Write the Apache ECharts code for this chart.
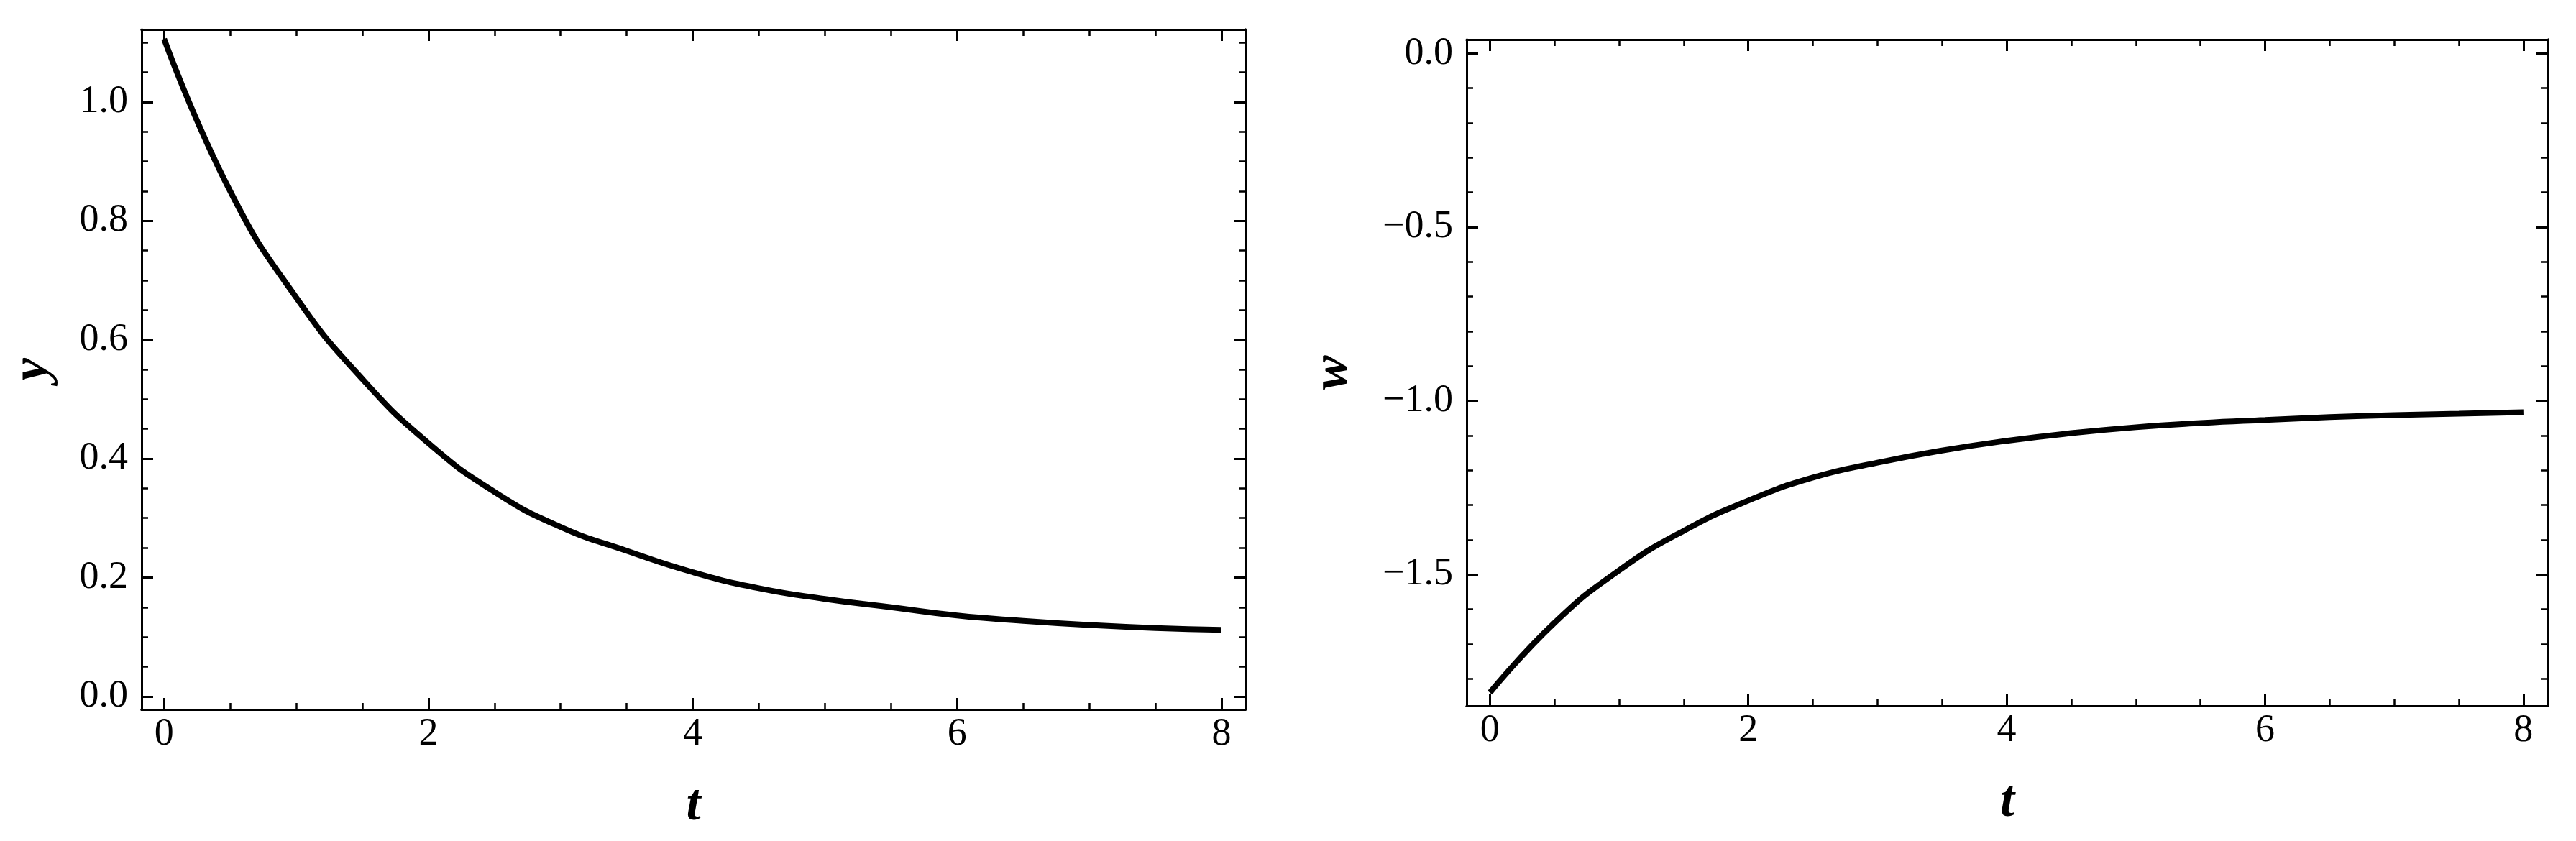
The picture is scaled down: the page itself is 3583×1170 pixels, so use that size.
<!DOCTYPE html>
<html>
<head>
<meta charset="utf-8">
<script src="https://cdn.jsdelivr.net/npm/echarts@6.0.0/dist/echarts.min.js"></script>
<style>
  html, body { margin: 0; padding: 0; background: #fff; }
  #main { width: 3583px; height: 1170px; }
</style>
</head>
<body>
<div id="main"></div>
<script>
  // 时间 t（两幅图共用）
  var tValues = [0, 0.5, 1, 1.5, 2, 2.5, 3, 3.5, 4, 4.5, 5, 5.5, 6, 6.5, 7, 7.5, 8];
  // 左图 y(t)
  var yValues = [1.106, 0.850, 0.671, 0.534, 0.426, 0.344, 0.285, 0.245, 0.209,
                 0.182, 0.164, 0.150, 0.136, 0.127, 0.120, 0.115, 0.112];
  // 右图 w(t)
  var wValues = [-1.840, -1.639, -1.488, -1.374, -1.287, -1.221, -1.178, -1.143, -1.115,
                 -1.093, -1.076, -1.064, -1.055, -1.047, -1.041, -1.037, -1.033];

  // 刻度
  var tMajorTicks = [0, 2, 4, 6, 8];
  var tMinorTicks = [0.5, 1, 1.5, 2.5, 3, 3.5, 4.5, 5, 5.5, 6.5, 7, 7.5];
  var yMajorTicks = [0, 0.2, 0.4, 0.6, 0.8, 1.0];
  var yMinorTicks = [0.05, 0.1, 0.15, 0.25, 0.3, 0.35, 0.45, 0.5, 0.55,
                     0.65, 0.7, 0.75, 0.85, 0.9, 0.95, 1.05, 1.1];
  var wMajorTicks = [-1.5, -1.0, -0.5, 0];
  var wMinorTicks = [-1.8, -1.7, -1.6, -1.4, -1.3, -1.2, -1.1, -0.9, -0.8,
                     -0.7, -0.6, -0.4, -0.3, -0.2, -0.1];

  var serif = 'Liberation Serif';

  function pairs(xs, ys) {
    return xs.map(function (x, i) { return [x, ys[i]]; });
  }

  // 画框的一条边：主刻度或次刻度，朝内
  function frameAxis(gridIndex, position, min, max, ticks, major, label) {
    var axis = {
      type: 'value',
      gridIndex: gridIndex,
      position: position,
      min: min,
      max: max,
      axisLine: { show: true, onZero: false, lineStyle: { color: '#000', width: 3 } },
      axisTick: {
        show: true,
        inside: true,
        length: major ? 16 : 9,
        customValues: ticks,
        lineStyle: { color: '#000', width: major ? 3 : 2.5 }
      },
      axisLabel: { show: false },
      splitLine: { show: false }
    };
    if (label) {
      axis.axisLabel = {
        show: true,
        customValues: ticks,
        margin: label.margin,
        color: '#000',
        fontFamily: serif,
        fontSize: 54,
        formatter: label.formatter
      };
      axis.name = label.name;
      axis.nameLocation = 'middle';
      axis.nameGap = label.nameGap;
      axis.nameRotate = label.nameRotate;
      axis.nameTextStyle = {
        color: '#000',
        fontFamily: serif,
        fontSize: 72,
        fontWeight: 'bold',
        fontStyle: 'italic'
      };
    }
    return axis;
  }

  function fmtInt(v) { return String(v); }
  function fmtDec(v) { return v.toFixed(1).replace('-', '\u2212'); }

  var xAxes = [];
  var yAxes = [];

  function addPanel(g, tMin, tMax, vMin, vMax, vMajor, vMinor, vName, vGap) {
    xAxes.push(frameAxis(g, 'bottom', tMin, tMax, tMajorTicks, true,
      { margin: 8, formatter: fmtInt, name: 't', nameGap: 98, nameRotate: 0 }));
    xAxes.push(frameAxis(g, 'bottom', tMin, tMax, tMinorTicks, false));
    xAxes.push(frameAxis(g, 'top', tMin, tMax, tMajorTicks, true));
    xAxes.push(frameAxis(g, 'top', tMin, tMax, tMinorTicks, false));
    yAxes.push(frameAxis(g, 'left', vMin, vMax, vMajor, true,
      { margin: 19, formatter: fmtDec, name: vName, nameGap: vGap, nameRotate: 90 }));
    yAxes.push(frameAxis(g, 'left', vMin, vMax, vMinor, false));
    yAxes.push(frameAxis(g, 'right', vMin, vMax, vMajor, true));
    yAxes.push(frameAxis(g, 'right', vMin, vMax, vMinor, false));
  }

  addPanel(0, -0.17, 8.18, -0.022, 1.122, yMajorTicks, yMinorTicks, 'y', 115);
  addPanel(1, -0.18, 8.19, -1.878, 0.04, wMajorTicks, wMinorTicks, 'w', 150);

  function curve(xIdx, yIdx, data) {
    return {
      type: 'line',
      xAxisIndex: xIdx,
      yAxisIndex: yIdx,
      data: data,
      smooth: true,
      symbol: 'none',
      lineStyle: { color: '#000', width: 8 }
    };
  }

  var chart = echarts.init(document.getElementById('main'));
  chart.setOption({
    backgroundColor: '#fff',
    animation: false,
    grid: [
      { left: 197, top: 41, width: 1535, height: 946, containLabel: false, outerBoundsMode: 'none' },
      { left: 2040, top: 55, width: 1504, height: 927, containLabel: false, outerBoundsMode: 'none' }
    ],
    xAxis: xAxes,
    yAxis: yAxes,
    series: [
      curve(0, 0, pairs(tValues, yValues)),
      curve(4, 4, pairs(tValues, wValues))
    ]
  });
</script>
</body>
</html>
